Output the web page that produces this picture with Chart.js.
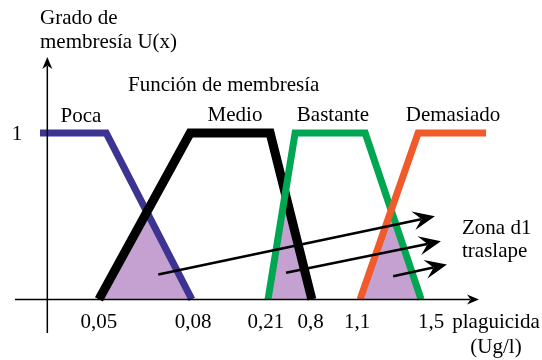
<!DOCTYPE html>
<html>
<head>
<meta charset="utf-8">
<script src="https://cdn.jsdelivr.net/npm/chart.js@4.4.1/dist/chart.umd.min.js"></script>
<style>
body{margin:0;background:#fff}
</style>
</head>
<body>
<canvas id="fuzzy" width="542" height="360"></canvas>
<script>
// puntos de quiebre de cada funcion (eje x en unidades del esquema, y = grado de membresia)
const pocaX = [-0.17, 1.37, 3.36];
const pocaY = [1, 1, 0];
const medioX = [1.20, 3.32, 5.18, 6.15];
const medioY = [0, 1, 1, 0];
const bastanteX = [5.13, 5.76, 7.39, 8.69];
const bastanteY = [0, 1, 1, 0];
const demasiadoX = [7.27, 8.62, 10.2];
const demasiadoY = [0, 1, 1];

// zonas de traslape (triangulos)
const tri1X = [1.20, 2.31, 3.36];
const tri1Y = [0, 0.53, 0];
const tri2X = [5.13, 5.53, 6.15];
const tri2Y = [0, 0.64, 0];
const tri3X = [7.27, 7.99, 8.69];
const tri3Y = [0, 0.54, 0];

// flechas hacia "Zona d1 traslape"
const arrowFromX = [2.58, 5.55, 8.04];
const arrowFromY = [0.15, 0.16, 0.14];
const arrowToX = [9.01, 9.15, 9.29];
const arrowToY = [0.50, 0.35, 0.21];

// etiquetas del eje x
const tickPos = [1.20, 3.39, 5.08, 6.12, 7.20, 8.92, 10.43];
const tickText = ['0,05', '0,08', '0,21', '0,8', '1,1', '1,5', ['plaguicida', '(Ug/l)']];

const FONT = '"Liberation Serif", "Times New Roman", serif';

function pts(xs, ys) {
  return xs.map((x, i) => ({x: x, y: ys[i]}));
}

function lineSet(xs, ys, color, w, ord) {
  return {
    data: pts(xs, ys),
    borderColor: color,
    borderWidth: w,
    borderJoinStyle: 'miter',
    borderCapStyle: 'butt',
    pointRadius: 0,
    fill: false,
    tension: 0,
    order: ord
  };
}

function triSet(xs, ys) {
  return {
    data: pts(xs, ys),
    borderWidth: 0,
    backgroundColor: '#c5a1d1',
    pointRadius: 0,
    fill: 'origin',
    tension: 0,
    order: 10
  };
}

function arrowHead(ctx, x1, y1, x2, y2, L, W, notch) {
  var a = Math.atan2(y2 - y1, x2 - x1);
  ctx.save();
  ctx.translate(x2, y2);
  ctx.rotate(a);
  ctx.beginPath();
  ctx.moveTo(0, 0);
  ctx.lineTo(-L, -W);
  ctx.lineTo(-L * notch, 0);
  ctx.lineTo(-L, W);
  ctx.closePath();
  ctx.fill();
  ctx.restore();
}

const extras = {
  id: 'extras',
  afterDatasetsDraw(chart) {
    const ctx = chart.ctx;
    const xs = chart.scales.x, ys = chart.scales.y;
    const x0 = xs.getPixelForValue(0), y0 = ys.getPixelForValue(0);
    ctx.save();
    ctx.strokeStyle = '#000';
    ctx.fillStyle = '#000';

    // ejes
    ctx.lineWidth = 1.5;
    ctx.beginPath();
    ctx.moveTo(15, y0); ctx.lineTo(470, y0);
    ctx.moveTo(x0, 333); ctx.lineTo(x0, 66);
    ctx.stroke();
    arrowHead(ctx, 15, y0, 479, y0, 12, 5, 0.7);
    arrowHead(ctx, x0, 333, x0, 57, 12, 5, 0.7);

    // flechas
    ctx.lineWidth = 2.6;
    for (var i = 0; i < arrowFromX.length; i++) {
      var ax = xs.getPixelForValue(arrowFromX[i]), ay = ys.getPixelForValue(arrowFromY[i]);
      var bx = xs.getPixelForValue(arrowToX[i]), by = ys.getPixelForValue(arrowToY[i]);
      var len = Math.hypot(bx - ax, by - ay);
      var ex = bx - (bx - ax) / len * 14, ey = by - (by - ay) / len * 14;
      ctx.beginPath();
      ctx.moveTo(ax, ay); ctx.lineTo(ex, ey);
      ctx.stroke();
      arrowHead(ctx, ax, ay, bx, by, 22, 9.5, 0.62);
    }

    // textos
    ctx.font = '21px ' + FONT;
    ctx.textBaseline = 'alphabetic';
    ctx.textAlign = 'left';
    ctx.fillText('Grado de', 40, 24);
    ctx.fillText('membresía U(x)', 40, 48);
    ctx.fillText('Función de membresía', 128, 91);
    ctx.fillText('Zona d1', 462, 234);
    ctx.fillText('traslape', 462, 257);
    ctx.textAlign = 'center';
    ctx.fillText('Poca', 81, 122);
    ctx.fillText('Medio', 235, 121);
    ctx.fillText('Bastante', 333, 121);
    ctx.fillText('Demasiado', 453, 121);
    ctx.fillText('1', 17, ys.getPixelForValue(1) + 7);
    ctx.restore();
  }
};

new Chart(document.getElementById('fuzzy'), {
  type: 'line',
  data: {
    datasets: [
      triSet(tri1X, tri1Y),
      triSet(tri2X, tri2Y),
      triSet(tri3X, tri3Y),
      lineSet(pocaX, pocaY, '#3c3491', 7, 4),
      lineSet(medioX, medioY, '#000000', 9, 3),
      lineSet(bastanteX, bastanteY, '#00a651', 7, 2),
      lineSet(demasiadoX, demasiadoY, '#f15a2b', 7, 1)
    ]
  },
  options: {
    responsive: false,
    animation: false,
    events: [],
    clip: false,
    layout: {padding: 0},
    plugins: {legend: {display: false}, tooltip: {enabled: false}},
    scales: {
      x: {
        type: 'linear',
        min: -1.1,
        max: 11.5,
        grid: {display: false, drawTicks: false},
        border: {display: false},
        afterBuildTicks: axis => { axis.ticks = tickPos.map(v => ({value: v})); },
        ticks: {
          autoSkip: false,
          maxRotation: 0,
          minRotation: 0,
          padding: 0,
          color: '#000',
          font: {family: FONT, size: 21, lineHeight: 1.2},
          callback: (v, i) => tickText[i]
        }
      },
      y: {
        type: 'linear',
        min: -0.061,
        max: 1.8,
        display: false
      }
    }
  },
  plugins: [extras]
});
</script>
</body>
</html>
